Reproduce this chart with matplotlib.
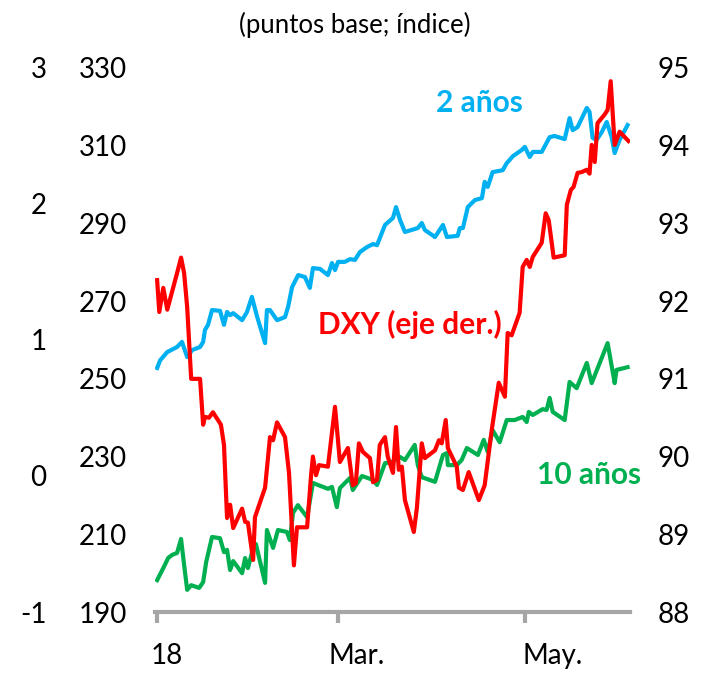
import matplotlib
matplotlib.use("Agg")
import matplotlib.pyplot as plt
import numpy as np
import pandas as pd

# Curva de rendimientos EE.UU. (pb) y DXY (indice), 2018
# dias contados desde el 1 de enero de 2018

dias_2a = [0.0, 1.0, 3.3, 6.5, 8.1, 9.8, 11.4, 14.0, 15.0, 15.6, 16.6, 17.9, 20.5, 21.8, 22.8,
           23.8, 24.8, 27.7, 29.3, 30.9, 32.6, 35.2, 35.8, 36.8, 39.1, 41.7, 42.7, 44.0, 46.0,
           48.2, 49.8, 50.8, 53.1, 55.7, 57.0, 58.0, 59.0, 61.2, 62.9, 64.5, 66.1, 68.4, 70.4,
           71.7, 74.3, 76.9, 77.9, 79.2, 80.8, 85.0, 86.3, 87.3, 90.6, 93.2, 94.5, 98.0, 98.7,
           99.7, 101.3, 103.6, 105.9, 106.8, 107.8, 109.4, 112.7, 114.0, 116.0, 118.9, 119.9,
           121.5, 122.5, 125.4, 128.0, 129.6, 132.9, 134.5, 135.5, 137.1, 140.1, 141.0, 142.0,
           143.3, 145.0, 146.6, 148.2, 149.2, 150.8, 153.4]
tasa_2a = [252.8, 254.8, 256.9, 258.2, 259.5, 255.6, 257.4, 258.2, 259.5, 262.6, 263.9, 267.7,
           267.5, 263.9, 267.2, 266.4, 266.9, 265.1, 267.2, 271.1, 266.0, 259.2, 267.7, 267.7,
           265.1, 265.9, 268.5, 273.6, 276.7, 276.2, 273.4, 278.5, 278.3, 276.7, 279.8, 278.0,
           280.1, 280.1, 280.8, 280.6, 282.6, 283.9, 284.7, 284.4, 289.6, 291.4, 294.2, 290.9,
           287.8, 288.8, 290.1, 288.3, 286.5, 289.6, 286.5, 286.8, 288.8, 288.8, 294.2, 296.0,
           296.5, 300.7, 299.4, 303.2, 303.7, 305.5, 307.3, 308.9, 309.7, 307.1, 308.4, 308.4,
           312.2, 312.5, 311.7, 317.1, 314.0, 314.8, 319.7, 318.7, 312.0, 311.5, 313.5, 316.1,
           312.2, 308.1, 311.5, 315.3]

dias_10a = [0.0, 2.0, 3.6, 4.9, 6.5, 7.8, 8.8, 9.8, 11.1, 13.7, 15.0, 16.0, 17.9, 20.5, 21.8,
            22.8, 23.8, 24.8, 27.7, 28.7, 29.6, 30.9, 32.2, 35.2, 35.8, 37.8, 39.4, 42.3, 43.3,
            44.3, 45.9, 48.9, 50.8, 55.7, 57.0, 58.6, 59.6, 62.9, 63.8, 66.8, 70.4, 71.7, 74.3,
            76.5, 79.2, 80.8, 84.0, 85.0, 86.3, 90.6, 93.2, 94.5, 94.8, 97.7, 99.3, 101.0, 104.6,
            106.5, 107.8, 109.4, 111.7, 114.0, 116.6, 119.2, 120.5, 121.2, 122.5, 125.7, 127.0,
            128.0, 129.0, 132.9, 134.5, 136.8, 140.1, 141.7, 146.9, 149.2, 149.8, 153.4]
tasa_10a = [198.2, 201.3, 203.9, 204.7, 205.2, 208.8, 202.1, 195.7, 196.9, 196.2, 197.7, 202.9,
            209.3, 209.0, 205.4, 206.0, 200.8, 203.1, 200.0, 203.9, 201.3, 205.2, 207.5, 197.5,
            211.1, 206.5, 211.1, 210.6, 208.5, 215.5, 217.5, 214.4, 223.2, 221.7, 222.2, 217.0,
            221.9, 224.5, 221.4, 225.0, 224.0, 222.7, 228.3, 228.6, 229.9, 229.1, 233.0, 227.8,
            224.7, 223.5, 230.4, 230.9, 227.8, 227.8, 229.1, 232.2, 230.4, 234.3, 231.2, 236.8,
            233.7, 239.4, 239.4, 240.2, 238.9, 241.5, 240.7, 242.2, 242.0, 245.1, 241.5, 239.4,
            249.2, 247.6, 254.1, 248.9, 259.2, 248.9, 252.3, 253.0]

dias_dxy = [0.0, 0.7, 2.0, 3.3, 6.5, 7.8, 8.8, 9.8, 11.1, 14.0, 15.0, 15.6, 16.9, 18.2, 20.8,
            21.8, 22.8, 23.8, 24.8, 27.7, 28.7, 29.6, 31.3, 31.9, 35.2, 36.8, 37.8, 39.1, 41.7,
            43.0, 44.6, 45.6, 48.9, 50.2, 50.8, 51.8, 52.8, 55.7, 58.0, 59.6, 62.2, 63.8, 64.8,
            65.8, 67.1, 69.4, 70.4, 71.7, 72.6, 74.3, 75.2, 76.9, 77.9, 78.8, 79.8, 80.8, 83.7,
            84.7, 86.3, 87.3, 90.6, 91.9, 92.8, 94.1, 94.8, 97.7, 98.4, 99.7, 101.6, 104.9, 106.8,
            109.1, 111.4, 113.4, 114.3, 115.6, 118.2, 119.2, 120.5, 121.5, 122.5, 125.4, 126.7,
            127.7, 129.3, 132.9, 133.6, 134.9, 135.8, 137.1, 138.4, 140.1, 141.0, 141.7, 142.7,
            143.6, 145.9, 146.9, 147.9, 149.2, 150.8, 153.7]
dxy = [92.27, 91.86, 92.17, 91.89, 92.36, 92.56, 92.36, 91.92, 91.00, 91.00, 90.41, 90.51, 90.50,
       90.57, 90.41, 90.15, 89.21, 89.38, 89.08, 89.33, 89.16, 89.15, 88.67, 89.22, 89.60, 90.25,
       90.21, 90.44, 90.25, 89.79, 88.60, 89.09, 89.09, 89.76, 90.00, 89.76, 89.89, 89.87, 90.64,
       89.93, 90.11, 89.63, 89.66, 90.17, 90.06, 89.98, 89.67, 89.70, 90.15, 90.25, 90.00, 89.79,
       90.38, 89.83, 89.87, 89.44, 89.03, 89.34, 90.17, 89.98, 90.08, 90.21, 90.17, 90.47, 90.11,
       89.87, 89.60, 89.57, 89.80, 89.44, 89.63, 90.34, 90.95, 90.77, 91.59, 91.56, 91.85, 92.44,
       92.53, 92.44, 92.57, 92.75, 93.13, 93.04, 92.56, 92.59, 93.24, 93.43, 93.47, 93.65, 93.66,
       93.69, 93.64, 94.01, 93.79, 94.29, 94.40, 94.46, 94.83, 94.01, 94.18, 94.06]

ticks_izq_ext = [-1, 0, 1, 2, 3]
ticks_izq = [190, 210, 230, 250, 270, 290, 310, 330]
ticks_der = [88, 89, 90, 91, 92, 93, 94, 95]
fechas_ticks = ['2018-01-01', '2018-03-01', '2018-05-01']
# las etiquetas de Excel quedan algo a la derecha de cada marca
fechas_etiquetas = ['2018-01-04', '2018-03-07', '2018-05-10']
etiquetas_x = ['18', 'Mar.', 'May.']

AZUL = '#00B0F0'
ROJO = '#FF0000'
VERDE = '#00B050'
GRIS = '#A6A6A6'

plt.rcParams['font.family'] = ['Lato', 'DejaVu Sans']

inicio = pd.Timestamp('2018-01-01')
def a_fecha(d):
    return inicio + pd.to_timedelta(np.array(d), unit='D')

fig = plt.figure(figsize=(7.09, 6.77), dpi=100)
ax = fig.add_axes([0.2186, 0.0960, 0.6700, 0.8036])

ax.plot(a_fecha(dias_2a), tasa_2a, color=AZUL, lw=3)
ax.plot(a_fecha(dias_10a), tasa_10a, color=VERDE, lw=3)
ax.set_ylim(190, 330)
ax.set_yticks(ticks_izq)
ax.set_xlim(a_fecha(-0.7), a_fecha(154.2))

# eje derecho para el DXY
ax2 = ax.twinx()
ax2.plot(a_fecha(dias_dxy), dxy, color=ROJO, lw=3)
ax2.set_ylim(88, 95)
ax2.set_yticks(ticks_der)

# eje exterior izquierdo
ax3 = ax.twinx()
ax3.yaxis.tick_left()
ax3.set_ylim(-1, 3)
ax3.set_yticks(ticks_izq_ext)
ax3.set_yticklabels(['%d' % v for v in ticks_izq_ext])

for a in (ax, ax2, ax3):
    for s in a.spines.values():
        s.set_visible(False)
ax.spines['bottom'].set_visible(True)
ax.spines['bottom'].set_color(GRIS)
ax.spines['bottom'].set_linewidth(3)

# marcas (mayores) sin texto, etiquetas en menores sin marca
ax.set_xticks(pd.to_datetime(fechas_ticks))
ax.set_xticklabels([])
ax.set_xticks(pd.to_datetime(fechas_etiquetas), minor=True)
ax.set_xticklabels(etiquetas_x, minor=True)
ax.tick_params(axis='x', which='major', colors=GRIS, length=8, width=3)
ax.tick_params(axis='x', which='minor', length=0, pad=22, labelsize=20, labelcolor='black')
ax.tick_params(axis='y', length=0, pad=20, labelsize=20)
ax2.tick_params(axis='y', length=0, pad=20, labelsize=20)
ax3.tick_params(axis='y', length=0, pad=78, labelsize=20)

# etiquetas de las series
ax.text(inicio + pd.Timedelta(days=105.2), 321, '2 años', color=AZUL,
        fontsize=21.5, fontweight='bold', ha='center', va='center')
ax.text(inicio + pd.Timedelta(days=82.4), 264, 'DXY (eje der.)', color=ROJO,
        fontsize=21.5, fontweight='bold', ha='center', va='center', zorder=5)
ax.text(inicio + pd.Timedelta(days=141), 225.3, '10 años', color=VERDE,
        fontsize=21.5, fontweight='bold', ha='center', va='center')

fig.text(0.50, 0.963, '(puntos base; índice)', fontsize=18.5, ha='center', va='center')

fig.savefig('out.png', dpi=100)
